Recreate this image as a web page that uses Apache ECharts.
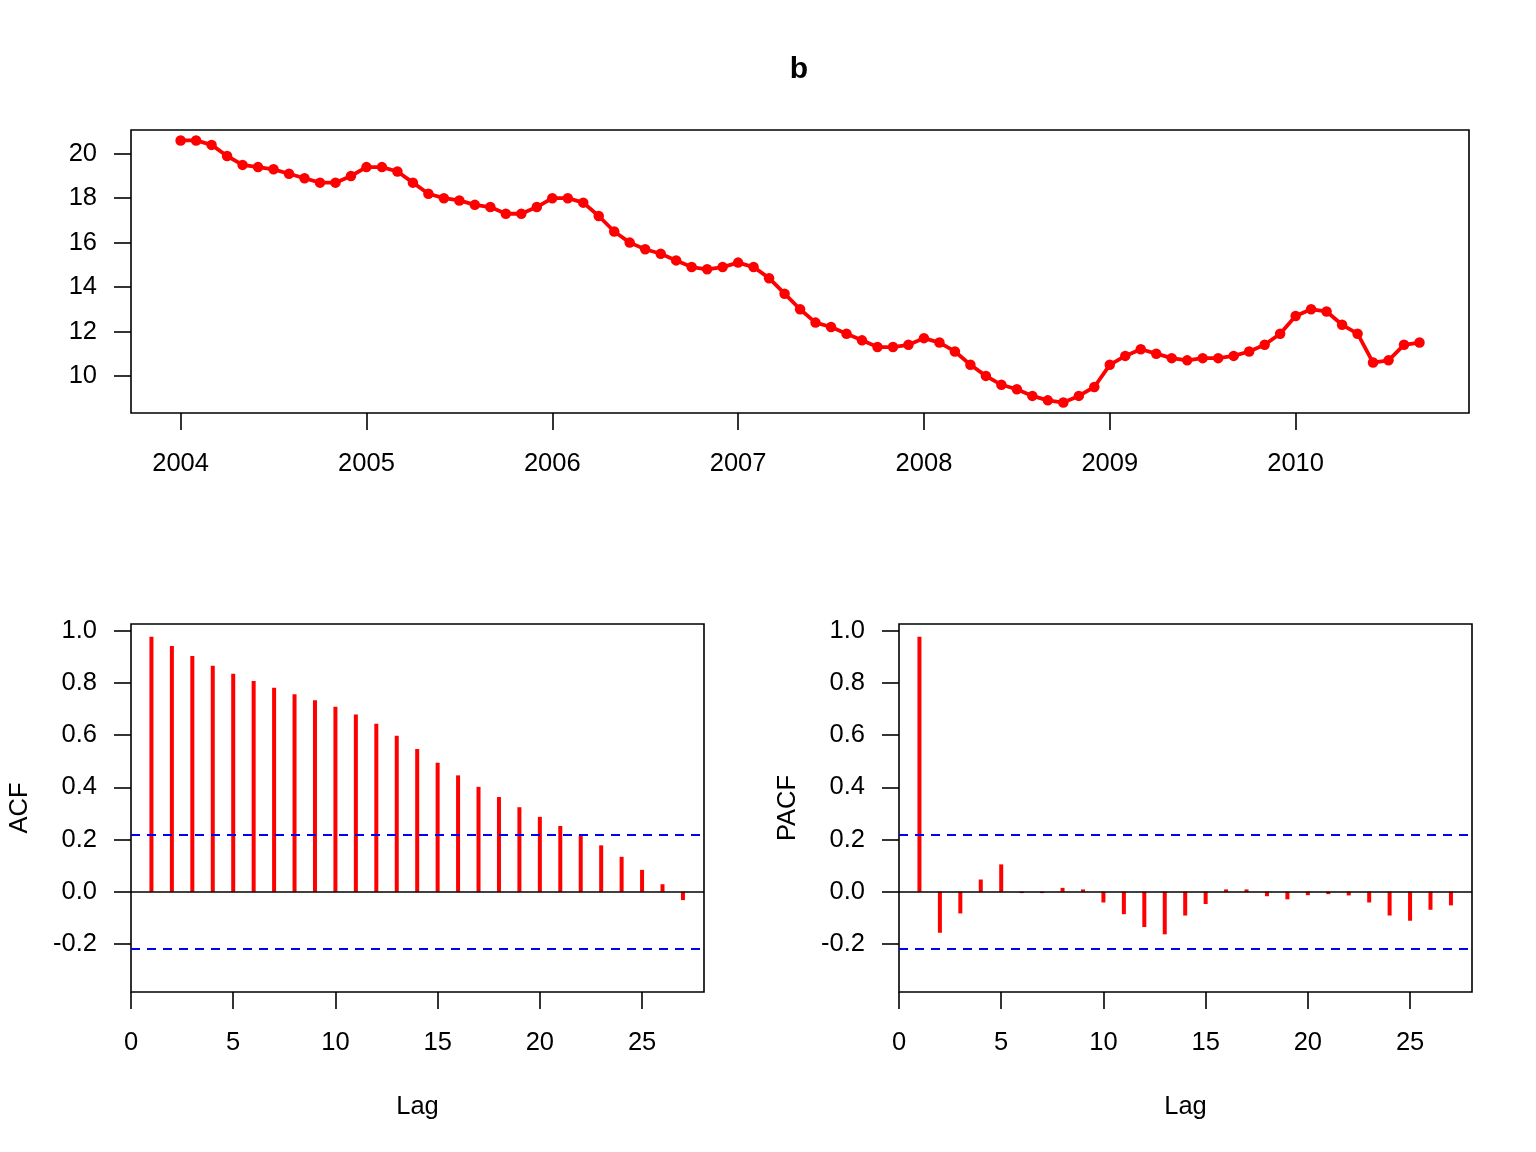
<!DOCTYPE html>
<html><head><meta charset="utf-8">
<script src="https://cdn.jsdelivr.net/npm/echarts@6/dist/echarts.min.js"></script>
<style>html,body{margin:0;padding:0;background:#fff}#c{width:1536px;height:1152px}</style>
</head><body><div id="c"></div><script>
// ---- data ----
const startYear = 2004;
const freq = 12;
const bValues = [
  20.6,20.6,20.4,19.9,19.5,19.4,19.3,19.1,18.9,18.7,18.7,19.0,
  19.4,19.4,19.2,18.7,18.2,18.0,17.9,17.7,17.6,17.3,17.3,17.6,
  18.0,18.0,17.8,17.2,16.5,16.0,15.7,15.5,15.2,14.9,14.8,14.9,
  15.1,14.9,14.4,13.7,13.0,12.4,12.2,11.9,11.6,11.3,11.3,11.4,
  11.7,11.5,11.1,10.5,10.0,9.6,9.4,9.1,8.9,8.8,9.1,9.5,
  10.5,10.9,11.2,11.0,10.8,10.7,10.8,10.8,10.9,11.1,11.4,11.9,
  12.7,13.0,12.9,12.3,11.9,10.6,10.7,11.4,11.5
];
const yearTicks = [2004,2005,2006,2007,2008,2009,2010];
const tsYTicks = [10,12,14,16,18,20];
const lags = [1,2,3,4,5,6,7,8,9,10,11,12,13,14,15,16,17,18,19,20,21,22,23,24,25,26,27];
const acfValues = [0.977,0.942,0.903,0.866,0.835,0.808,0.782,0.757,0.734,0.709,0.679,0.644,0.598,0.547,
  0.494,0.446,0.402,0.363,0.324,0.287,0.252,0.217,0.178,0.134,0.084,0.029,-0.032];
const pacfValues = [0.977,-0.157,-0.083,0.047,0.105,-0.005,-0.005,0.015,0.009,-0.041,-0.086,-0.135,-0.163,
  -0.091,-0.047,0.009,0.009,-0.017,-0.029,-0.013,-0.009,-0.014,-0.041,-0.091,-0.111,-0.069,-0.052];
const ciLimit = 0.2178;
const corrTicks = [-0.2,0,0.2,0.4,0.6,0.8,1.0];
const lagTicks = [0,5,10,15,20,25];

// ---- styling ----
const FONT = '"Liberation Sans", Arial, Helvetica, sans-serif';
const FS = 25.5;
const chart = echarts.init(document.getElementById('c'), null, {renderer:'canvas'});
const gridStyle = {show:true, borderColor:'#000', borderWidth:1.6, backgroundColor:'rgba(0,0,0,0)'};

function xAxisCfg(idx, min, max, ticks, fmt, name){
  return {
    type:'value', gridIndex:idx, min:min, max:max,
    axisLine:{show:false, onZero:false}, splitLine:{show:false},
    axisTick:{show:true, customValues:ticks, length:17, lineStyle:{color:'#000', width:1.6}},
    axisLabel:{customValues:ticks, margin:38, fontSize:FS, color:'#000', fontFamily:FONT, formatter:fmt},
    name:name||'', nameLocation:'middle', nameGap:102,
    nameTextStyle:{fontSize:FS, color:'#000', fontFamily:FONT}
  };
}
function yAxisCfg(idx, min, max, ticks, fmt, name){
  return {
    type:'value', gridIndex:idx, min:min, max:max,
    axisLine:{show:false, onZero:false}, splitLine:{show:false},
    axisTick:{show:true, customValues:ticks, length:17, lineStyle:{color:'#000', width:1.6}},
    axisLabel:{customValues:ticks, margin:34, fontSize:FS, color:'#000', fontFamily:FONT, formatter:fmt},
    name:name||'', nameLocation:'middle', nameGap:98, nameRotate:90,
    nameTextStyle:{fontSize:FS, color:'#000', fontFamily:FONT}
  };
}
const corrFmt = v => v.toFixed(1);
const intFmt = v => String(Math.round(v));

function corrMarkLine(){
  return {
    silent:true, symbol:['none','none'], label:{show:false}, animation:false,
    data:[
      {yAxis:0, lineStyle:{color:'#000', type:'solid', width:1.6}},
      {yAxis:ciLimit, lineStyle:{color:'#0000ff', type:[9,7], width:1.8}},
      {yAxis:-ciLimit, lineStyle:{color:'#0000ff', type:[9,7], width:1.8}}
    ]
  };
}

const option = {
  animation:false,
  backgroundColor:'#fff',
  title:{text:'b', left:794, top:50, textAlign:'center',
    textStyle:{fontSize:30, fontWeight:'bold', color:'#000', fontFamily:FONT}},
  grid:[
    Object.assign({left:131, top:130, width:1338, height:283}, gridStyle),
    Object.assign({left:131, top:624, width:573, height:368}, gridStyle),
    Object.assign({left:899, top:624, width:573, height:368}, gridStyle)
  ],
  xAxis:[
    xAxisCfg(0, 2003.733, 2010.933, yearTicks, intFmt),
    xAxisCfg(1, 0, 28.03, lagTicks, intFmt, 'Lag'),
    xAxisCfg(2, 0, 28.03, lagTicks, intFmt, 'Lag')
  ],
  yAxis:[
    yAxisCfg(0, 8.33, 21.07, tsYTicks, intFmt),
    yAxisCfg(1, -0.384, 1.026, corrTicks, corrFmt, 'ACF'),
    yAxisCfg(2, -0.384, 1.026, corrTicks, corrFmt, 'PACF')
  ],
  series:[
    {
      type:'line', xAxisIndex:0, yAxisIndex:0,
      data:bValues.map((v,i)=>[startYear + i/freq, v]),
      symbol:'circle', symbolSize:10.5, showSymbol:true,
      lineStyle:{color:'#ff0000', width:3.8},
      itemStyle:{color:'#ff0000', borderWidth:0}
    },
    {
      type:'bar', xAxisIndex:1, yAxisIndex:1,
      data:lags.map((l,i)=>[l, acfValues[i]]),
      barWidth:4, itemStyle:{color:'#ff0000'},
      markLine:corrMarkLine()
    },
    {
      type:'bar', xAxisIndex:2, yAxisIndex:2,
      data:lags.map((l,i)=>[l, pacfValues[i]]),
      barWidth:4, itemStyle:{color:'#ff0000'},
      markLine:corrMarkLine()
    }
  ]
};
chart.setOption(option);
</script></body></html>
